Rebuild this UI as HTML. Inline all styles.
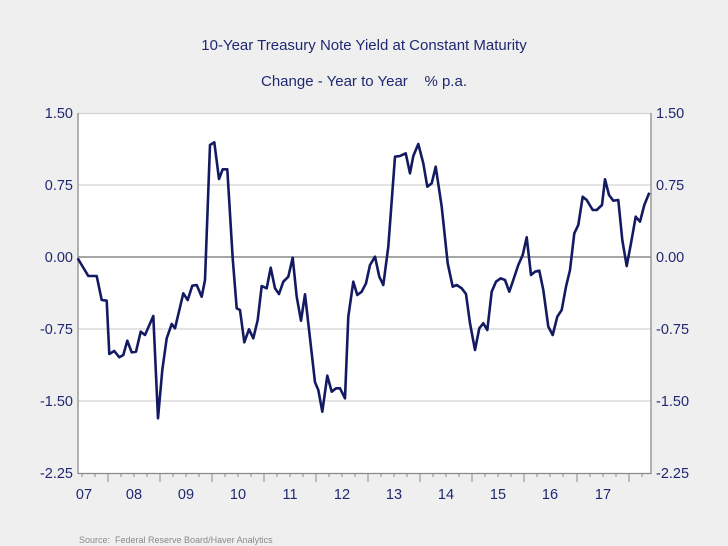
<!DOCTYPE html>
<html><head><meta charset="utf-8"><style>
html,body{margin:0;padding:0;background:#efefef;}
svg{display:block;}
text{font-family:"Liberation Sans",Arial,sans-serif;fill:#1f2870;}
</style></head><body>
<svg width="728" height="546" viewBox="0 0 728 546" xmlns="http://www.w3.org/2000/svg">
<rect width="728" height="546" fill="#efefef"/>
<rect x="78" y="113" width="573" height="360" fill="#ffffff"/>
<g stroke="#d4d4d4" stroke-width="1.2">
<line x1="78" y1="185" x2="651" y2="185"/>
<line x1="78" y1="329" x2="651" y2="329"/>
<line x1="78" y1="401" x2="651" y2="401"/>
<line x1="78" y1="113.5" x2="651" y2="113.5"/>
</g>
<line x1="78" y1="257" x2="651" y2="257" stroke="#707070" stroke-width="1.3"/>
<g stroke="#8a8a8a" stroke-width="1.3" fill="none">
<line x1="78" y1="113" x2="78" y2="474"/>
<line x1="651" y1="113" x2="651" y2="474"/>
<line x1="78" y1="473.5" x2="651" y2="473.5"/>
</g>
<g stroke="#8a8a8a" stroke-width="1">
<line x1="108" y1="473" x2="108" y2="482"/><line x1="160" y1="473" x2="160" y2="482"/><line x1="212" y1="473" x2="212" y2="482"/><line x1="264" y1="473" x2="264" y2="482"/><line x1="316" y1="473" x2="316" y2="482"/><line x1="368" y1="473" x2="368" y2="482"/><line x1="420" y1="473" x2="420" y2="482"/><line x1="472" y1="473" x2="472" y2="482"/><line x1="524" y1="473" x2="524" y2="482"/><line x1="577" y1="473" x2="577" y2="482"/><line x1="629" y1="473" x2="629" y2="482"/>
<line x1="82" y1="473" x2="82" y2="477"/><line x1="95" y1="473" x2="95" y2="477"/><line x1="121" y1="473" x2="121" y2="477"/><line x1="134" y1="473" x2="134" y2="477"/><line x1="147" y1="473" x2="147" y2="477"/><line x1="173" y1="473" x2="173" y2="477"/><line x1="186" y1="473" x2="186" y2="477"/><line x1="199" y1="473" x2="199" y2="477"/><line x1="225" y1="473" x2="225" y2="477"/><line x1="238" y1="473" x2="238" y2="477"/><line x1="251" y1="473" x2="251" y2="477"/><line x1="277" y1="473" x2="277" y2="477"/><line x1="290" y1="473" x2="290" y2="477"/><line x1="303" y1="473" x2="303" y2="477"/><line x1="329" y1="473" x2="329" y2="477"/><line x1="342" y1="473" x2="342" y2="477"/><line x1="355" y1="473" x2="355" y2="477"/><line x1="381" y1="473" x2="381" y2="477"/><line x1="394" y1="473" x2="394" y2="477"/><line x1="407" y1="473" x2="407" y2="477"/><line x1="433" y1="473" x2="433" y2="477"/><line x1="446" y1="473" x2="446" y2="477"/><line x1="459" y1="473" x2="459" y2="477"/><line x1="485" y1="473" x2="485" y2="477"/><line x1="498" y1="473" x2="498" y2="477"/><line x1="511" y1="473" x2="511" y2="477"/><line x1="537" y1="473" x2="537" y2="477"/><line x1="550" y1="473" x2="550" y2="477"/><line x1="563" y1="473" x2="563" y2="477"/><line x1="590" y1="473" x2="590" y2="477"/><line x1="603" y1="473" x2="603" y2="477"/><line x1="616" y1="473" x2="616" y2="477"/><line x1="642" y1="473" x2="642" y2="477"/>
</g>
<polyline fill="none" stroke="#131a62" stroke-width="2.6" stroke-linejoin="round" points="
77.7,258.3 81.7,265 88.3,276 96.7,276 101.7,300 106.7,300.7 109.3,354 114.3,351 119.3,357.3 123.3,355 127.3,340.7 131.7,352.3 136,351.7 140.7,331.7 145,335 153.3,316 158,418.3 162.3,370 166.7,338.3 171.7,324 175,328.3 183.3,293.3 187.7,300 192.3,285.7 196.7,285 201.7,296.7 205,280 210,145 214.3,142.3 219,179 222.7,169.3 227.3,169.3 232.7,258.3 236.7,308.3 240,310 244.3,342.3 249,329.3 253.3,338.3 257.7,320 261.7,286 266.7,288.3 270.7,267.7 275,288.3 279,294 283.3,281.7 288.3,276.7 292.7,257.7 296.7,296.7 301,320.7 305,294.3 308.3,323.3 315,382.3 318.3,390 322.3,411.7 327.3,375.7 331.7,391.7 336,388.3 340,388.3 345,398.3 348.3,316.7 353.3,281.7 357.3,295 361.7,291.7 366,283.3 370,265 375,256.7 379.3,276.7 383.3,285 388.3,246.7 395,156.7 400,156 405.7,153.3 410,173.3 413.3,156 418.3,144 423.3,163.3 427.3,186.7 431.7,183.3 435.7,166.7 441.7,206.7 447.7,263.3 452.7,286.7 456.7,285 461.7,288.3 466,294 470,323.3 475,350 479.3,328.3 483.3,323.3 487.3,330 491.7,291.7 496,281.7 500.7,278.3 505,280 509.3,291.7 513.3,280 518.3,265 522.7,255 526.7,237.3 531,275 535,271.7 539.3,270.7 543.3,290 548.3,326.7 552.7,335 557.3,316.7 561.7,310 566,286.7 570,270 574.3,233.3 578.3,225 582.7,196.7 586.7,200 592.7,210 596.7,210 602,205 605,179.3 609,195 613.3,200.7 618.3,200 622.3,240 626.7,266 631,243.3 635.7,216.7 640,221.7 644.3,205 649.3,192.7"/>
<g font-size="14.5">
<text x="73" y="118" text-anchor="end">1.50</text>
<text x="73" y="190" text-anchor="end">0.75</text>
<text x="73" y="262" text-anchor="end">0.00</text>
<text x="73" y="334" text-anchor="end">-0.75</text>
<text x="73" y="406" text-anchor="end">-1.50</text>
<text x="73" y="478" text-anchor="end">-2.25</text>
<text x="656" y="118">1.50</text>
<text x="656" y="190">0.75</text>
<text x="656" y="262">0.00</text>
<text x="656" y="334">-0.75</text>
<text x="656" y="406">-1.50</text>
<text x="656" y="478">-2.25</text>
</g>
<g font-size="14.5" text-anchor="middle">
<text x="84" y="499">07</text><text x="134" y="499">08</text><text x="186" y="499">09</text><text x="238" y="499">10</text><text x="290" y="499">11</text><text x="342" y="499">12</text><text x="394" y="499">13</text><text x="446" y="499">14</text><text x="498" y="499">15</text><text x="550" y="499">16</text><text x="603" y="499">17</text>
</g>
<text x="364" y="50" font-size="15" text-anchor="middle">10-Year Treasury Note Yield at Constant Maturity</text>
<text x="364" y="86" font-size="15" text-anchor="middle" xml:space="preserve">Change - Year to Year    % p.a.</text>
<text x="79" y="543" font-size="9" style="fill:#8a8a8a" xml:space="preserve">Source:  Federal Reserve Board/Haver Analytics</text>
</svg>
</body></html>
